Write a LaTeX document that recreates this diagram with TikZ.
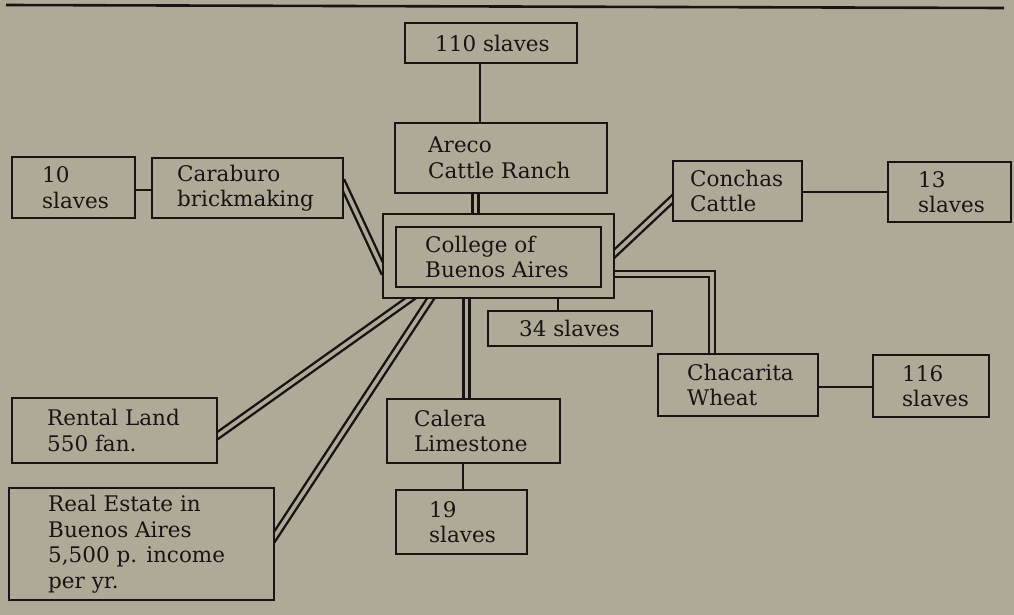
\documentclass[tikz,border=0pt]{standalone}
\usepackage{fontspec}
\setmainfont{DejaVu Serif}
\usetikzlibrary{calc}
\definecolor{paper}{RGB}{175,170,152}
\definecolor{ink}{RGB}{24,20,20}
\pgfdeclarelayer{back}
\pgfsetlayers{back,main}
\tikzset{
  box/.style={draw=ink, line width=2.8pt, fill=paper, anchor=north west, inner sep=0pt, outer sep=0pt, rectangle},
  txt/.style={anchor=west, align=left, inner sep=0pt, text=ink, font=\fontsize{21.5}{25.5}\selectfont},
  link/.style={draw=ink, line width=2.6pt},
  dlink/.style={draw=ink, line width=2.4pt, double=paper, double distance=3.6pt, shorten <=-4pt, shorten >=-4pt},
}
\begin{document}
\begin{tikzpicture}[x=1pt,y=-1pt]
\useasboundingbox (0,0) rectangle (1014,615);
% boxes
\node[box, minimum width=172pt, minimum height=40pt] (s110) at (405,23) {};
\node[box, minimum width=212pt, minimum height=70pt] (areco) at (395,123) {};
\node[box, minimum width=231pt, minimum height=84pt] (col) at (383,214) {};
\node[box, minimum width=205pt, minimum height=60pt] (coli) at (396,227) {};
\node[box, minimum width=164pt, minimum height=35pt] (s34) at (488,311) {};
\node[box, minimum width=123pt, minimum height=61pt] (s10) at (12,157) {};
\node[box, minimum width=191pt, minimum height=60pt] (carab) at (152,158) {};
\node[box, minimum width=129pt, minimum height=60pt] (conchas) at (673,161) {};
\node[box, minimum width=123pt, minimum height=60pt] (s13) at (888,162) {};
\node[box, minimum width=160pt, minimum height=62pt] (chaca) at (658,354) {};
\node[box, minimum width=116pt, minimum height=62pt] (s116) at (873,355) {};
\node[box, minimum width=205pt, minimum height=65pt] (rental) at (12,398) {};
\node[box, minimum width=265pt, minimum height=112pt] (realest) at (9,488) {};
\node[box, minimum width=173pt, minimum height=64pt] (calera) at (387,399) {};
\node[box, minimum width=131pt, minimum height=64pt] (s19) at (396,490) {};
% texts
\node[txt] (t110) at ([xshift=30pt]s110.west) {110 slaves};
\node[txt] (tareco) at ([xshift=33pt]areco.west) {Areco\\Cattle Ranch};
\node[txt] (tcol) at ([xshift=29pt]coli.west) {College of\\Buenos Aires};
\node[txt] (t34) at ([xshift=31pt]s34.west) {34 slaves};
\node[txt] (t10) at ([xshift=30pt]s10.west) {10\\slaves};
\node[txt] (tcarab) at ([xshift=25pt]carab.west) {Caraburo\\brickmaking};
\node[txt] (tconchas) at ([xshift=17pt]conchas.west) {Conchas\\Cattle};
\node[txt] (t13) at ([xshift=30pt]s13.west) {13\\slaves};
\node[txt] (tchaca) at ([xshift=29pt]chaca.west) {Chacarita\\Wheat};
\node[txt] (t116) at ([xshift=29pt]s116.west) {116\\slaves};
\node[txt] (trental) at ([xshift=35pt]rental.west) {Rental Land\\550 fan.};
\node[txt] (trealest) at ([xshift=39pt]realest.west) {Real Estate in\\Buenos Aires\\5,500 p. income\\per yr.};
\node[txt] (tcalera) at ([xshift=27pt]calera.west) {Calera\\Limestone};
\node[txt] (t19) at ([xshift=33pt]s19.west) {19\\slaves};
\begin{pgfonlayer}{back}
\fill[paper] (0,0) rectangle (1014,615);
\draw[ink, line width=2.6pt] (6,5) -- (1004,8);
\draw[link] ([xshift=-11pt]s110.south) -- ([xshift=-11pt]s110.south |- areco.north);
\draw[dlink] ([xshift=-25.5pt]areco.south) -- ([xshift=-25.5pt]areco.south |- col.north);
\draw[link] ([xshift=59.5pt]col.south) -- ([xshift=59.5pt]col.south |- s34.north);
\draw[link] ([yshift=-2.5pt]s10.east) -- ([yshift=-2.5pt]s10.east -| carab.west);
\draw[dlink] ([yshift=4pt]carab.east) -- ([yshift=-14pt]col.west);
\draw[dlink] ([yshift=2pt]col.east) -- ([yshift=-7.5pt]conchas.west);
\draw[link] ([yshift=-1pt]conchas.east) -- ([yshift=-1pt]conchas.east -| s13.west);
\draw[dlink, line join=miter] ([yshift=-18pt]col.east) -| ([xshift=-26pt]chaca.north);
\draw[link] ([yshift=-2pt]chaca.east) -- ([yshift=-2pt]chaca.east -| s116.west);
\draw[dlink] ([xshift=-87.5pt]col.south) -- ([yshift=-5.5pt]rental.east);
\draw[dlink] ([xshift=-67.5pt]col.south) -- ([yshift=6.5pt]realest.east);
\draw[dlink] ([xshift=-32pt]col.south) -- ([xshift=-32pt]col.south |- calera.north);
\draw[link] ([xshift=-10.5pt]calera.south) -- ([xshift=-10.5pt]calera.south |- s19.north);
\end{pgfonlayer}
\end{tikzpicture}
\end{document}
